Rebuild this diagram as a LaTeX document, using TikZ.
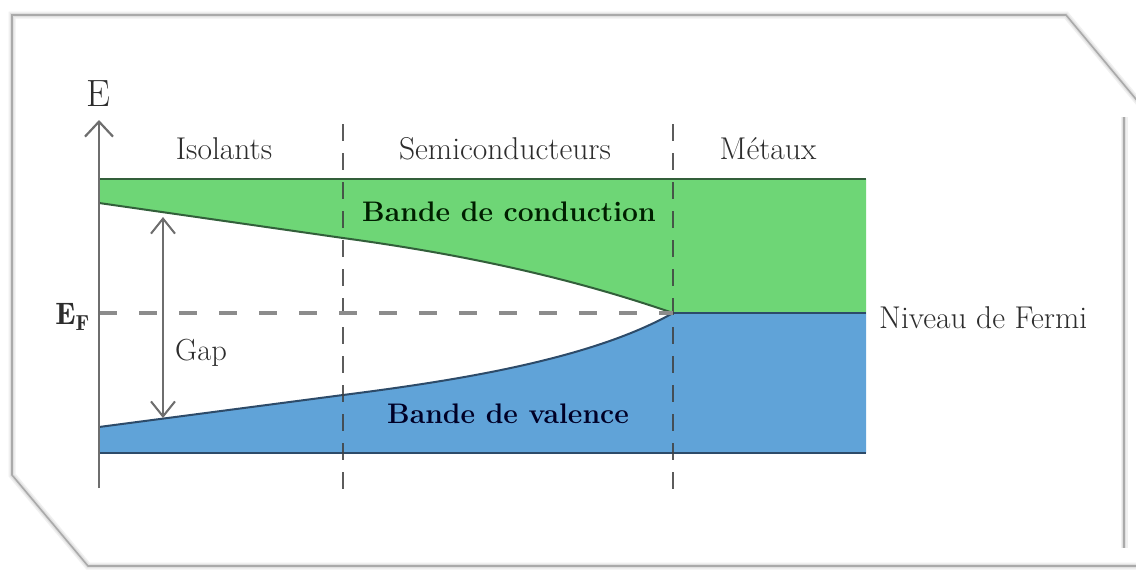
\documentclass[tikz,border=0pt]{standalone}
\usepackage{fontspec}
\usetikzlibrary{arrows.meta}
\definecolor{bandgreen}{RGB}{110,214,118}
\definecolor{bandblue}{RGB}{96,163,216}
\definecolor{greenline}{RGB}{50,95,58}
\definecolor{blueline}{RGB}{45,75,105}
\definecolor{labelgray}{RGB}{45,45,45}
\definecolor{axisgray}{RGB}{110,110,110}
\definecolor{framegray}{RGB}{170,170,170}
\tikzset{
  frameshadow/.style={line width=7pt, black!6, line join=miter},
  frameshadowb/.style={line width=4pt, black!12, line join=miter},
  frameline/.style={line width=1.6pt, framegray, line join=miter},
  greenedge/.style={line width=2pt, greenline},
  blueedge/.style={line width=2pt, blueline},
  sepline/.style={line width=2.6pt, black!75, opacity=0.85, dash pattern=on 17pt off 12pt},
  fermiline/.style={line width=3.6pt, black!45, dash pattern=on 18pt off 22pt},
  axisline/.style={line width=2.4pt, axisgray, -{Straight Barb[length=15pt,width=28pt,line width=2.2pt]}},
  gaparrow/.style={line width=2.2pt, axisgray, {Straight Barb[length=15pt,width=24pt,line width=2pt]}-{Straight Barb[length=15pt,width=24pt,line width=2pt]}},
  catlabel/.style={inner sep=0pt, text=labelgray, font=\fontsize{31.5}{36}\selectfont},
  bandlabel/.style={inner sep=0pt, font=\fontsize{28.3}{32}\selectfont\bfseries},
}
\begin{document}
\begin{tikzpicture}[x=1pt,y=-1pt]
\useasboundingbox (0,0) rectangle (1136,570);
\fill[white] (0,0) rectangle (1136,570);
% frame
\foreach \s in {frameshadow,frameshadowb,frameline}{
  \draw[\s] (1140,104) -- (1066,15) -- (12,15) -- (12,475) -- (88,566) -- (1140,566);
  \draw[\s] (1124,117) -- (1124,548);
}
% coordinates
\coordinate (axbot) at (99,488);
\coordinate (axtop) at (99,120);
\coordinate (gtl) at (99,179);
\coordinate (gtr) at (866,179);
\coordinate (gbl) at (99,203);
\coordinate (g1) at (343,238);
\coordinate (meet) at (673,313);
\coordinate (fr) at (866,313);
\coordinate (bbl) at (99,453);
\coordinate (bbr) at (866,453);
\coordinate (btl) at (99,427);
\coordinate (b1) at (343,395);
\coordinate (fl) at (99,313);
% bands
\fill[bandgreen] (gtl) -- (gtr) -- (fr) -- (meet) .. controls (563,275) and (453,253) .. (g1) -- (gbl) -- cycle;
\fill[bandblue] (bbl) -- (bbr) -- (fr) -- (meet) .. controls (590,360) and (453,381) .. (b1) -- (btl) -- cycle;
\draw[greenedge] (gtl) -- (gtr);
\draw[greenedge] (gbl) -- (g1) .. controls (453,253) and (563,275) .. (meet);
\draw[blueedge] (btl) -- (b1) .. controls (453,381) and (590,360) .. (meet);
\draw[blueedge] (meet) -- (fr);
\draw[blueedge] (bbl) -- (bbr);
% separators
\coordinate (s1t) at (343,124);
\coordinate (s1b) at (343,492);
\coordinate (s2t) at (673,124);
\coordinate (s2b) at (673,492);
\draw[sepline] (s1t) -- (s1b);
\draw[sepline] (s2t) -- (s2b);
% Fermi level
\draw[fermiline] (fl) -- (meet);
% axis
\draw[axisline] (axbot) -- (axtop);
% gap
\coordinate (gapt) at (163,217);
\coordinate (gapb) at (163,418);
\draw[gaparrow] (gapb) -- (gapt);
% labels
\node[inner sep=0pt, text=labelgray, font=\fontsize{38}{42}\selectfont] (E) at (98,94) {E};
\node[inner sep=0pt, text=labelgray, font=\fontsize{31}{36}\selectfont, anchor=east] (EF) at (90,317) {$\mathbf{E}_{\mathbf{F}}$};
\node[catlabel] (iso) at (224,149) {Isolants};
\node[catlabel] (semi) at (505,149) {Semiconducteurs};
\node[catlabel] (met) at (768,149) {Métaux};
\node[catlabel, anchor=west] (nf) at (879,318) {Niveau de Fermi};
\node[catlabel, font=\fontsize{30.5}{34}\selectfont] (gap) at (201,353) {Gap};
\node[bandlabel, text=black!80!green!60!black] (bc) at (509,212) {Bande de conduction};
\node[bandlabel, text=black!85!blue] (bv) at (508,414) {Bande de valence};
\end{tikzpicture}
\end{document}
